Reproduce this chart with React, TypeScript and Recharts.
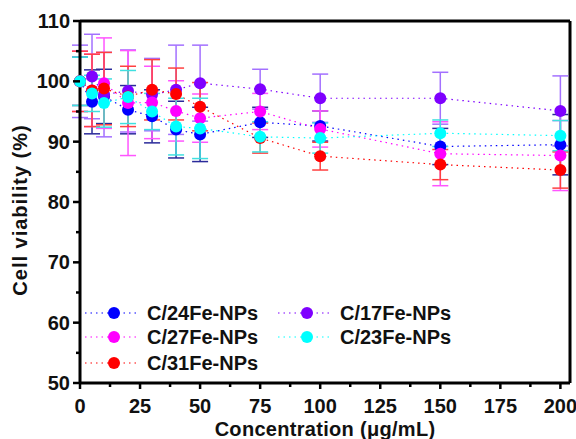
import React from "react";
import {
  ErrorBar,
  Label,
  Legend,
  Line,
  LineChart,
  ReferenceLine,
  XAxis,
  YAxis,
} from "recharts";

const concentrations = [0, 5, 10, 20, 30, 40, 50, 75, 100, 150, 200];

const c24 = [100, 96.6, 97.5, 95.3, 94.2, 92.0, 91.2, 93.2, 92.6, 89.2, 89.5];
const c24Err = [4, 5.3, 4.5, 4, 4.4, 4.7, 4.5, 2.5, 2.5, 3, 5];
const c17 = [100, 100.8, 97.8, 98.4, 97.8, 98.6, 99.7, 98.7, 97.2, 97.2, 95.1];
const c17Err = [6, 7, 7, 6.8, 6, 7.4, 6.3, 3.3, 4, 4.3, 5.8];
const c27 = [100, 98.5, 99.7, 96.4, 96.5, 95.1, 93.9, 95.0, 92.1, 88.0, 87.7];
const c27Err = [5, 6, 7.5, 8.7, 6, 5, 4, 3, 3, 5.3, 5.8];
const c31 = [100, 98.5, 98.8, 97.5, 98.6, 97.9, 95.8, 90.6, 87.6, 86.2, 85.3];
const c31Err = [5, 6, 6, 5, 5, 4.3, 4, 2.5, 2.3, 2.5, 3];
const c23 = [100, 98.0, 96.4, 97.4, 95.0, 92.5, 92.2, 90.8, 90.6, 91.4, 91.0];
const c23Err = [4, 3, 4, 4.4, 3, 4.7, 5, 2.5, 2.5, 2.2, 2.5];

const xTicks = [0, 12.5, 25, 37.5, 50, 62.5, 75, 87.5, 100, 112.5, 125, 137.5, 150, 162.5, 175, 187.5, 200];
const yTicks = [50, 55, 60, 65, 70, 75, 80, 85, 90, 95, 100, 105, 110];

const series = [
  { key: "c24", name: "C/24Fe-NPs", color: "#0000ff", errColor: "#2a2a9a" },
  { key: "c17", name: "C/17Fe-NPs", color: "#7f00ff", errColor: "#a370ff" },
  { key: "c27", name: "C/27Fe-NPs", color: "#ff00ff", errColor: "#ff55ff" },
  { key: "c31", name: "C/31Fe-NPs", color: "#ff0000", errColor: "#ff4040" },
  { key: "c23", name: "C/23Fe-NPs", color: "#00ffff", errColor: "#40e0e0" },
];

const data = concentrations.map((conc, i) => ({
  conc,
  c24: c24[i],
  c24Err: c24Err[i],
  c17: c17[i],
  c17Err: c17Err[i],
  c27: c27[i],
  c27Err: c27Err[i],
  c31: c31[i],
  c31Err: c31Err[i],
  c23: c23[i],
  c23Err: c23Err[i],
}));

const font = "'Liberation Sans', Arial, sans-serif";

function XTick(props: any) {
  const { x, y, payload } = props;
  const major = payload.value % 25 === 0;
  return (
    <g>
      <line x1={x} x2={x} y1={y} y2={y + (major ? 6 : 4)} stroke="#000" strokeWidth={2.5} />
      {major && (
        <text x={x} y={y + 30} textAnchor="middle" fontFamily={font} fontWeight="bold" fontSize={20} fill="#111">
          {payload.value}
        </text>
      )}
    </g>
  );
}

function YTick(props: any) {
  const { x, y, payload } = props;
  const major = payload.value % 10 === 0;
  return (
    <g>
      <line x1={x} x2={x - (major ? 7 : 4)} y1={y} y2={y} stroke="#000" strokeWidth={2.5} />
      {major && (
        <text x={x - 10} y={y + 7} textAnchor="end" fontFamily={font} fontWeight="bold" fontSize={20} fill="#111">
          {payload.value}
        </text>
      )}
    </g>
  );
}

// legend: two columns inside the plot, lower left
const legendPos: Record<string, [number, number]> = {
  c24: [0, 13],
  c27: [0, 37],
  c31: [0, 63],
  c17: [193, 13],
  c23: [193, 37],
};

function renderLegend() {
  return (
    <svg width={420} height={80}>
      {series.map((s) => {
        const [ox, cy] = legendPos[s.key];
        return (
          <g key={s.key}>
            <line x1={ox + 7} x2={ox + 60} y1={cy} y2={cy} stroke={s.color} strokeWidth={1.2} strokeDasharray="1.5 4" />
            <circle cx={ox + 36} cy={cy} r={6} fill={s.color} />
            <text x={ox + 69} y={cy + 7} fontFamily={font} fontWeight="bold" fontSize={20} fill="#111">
              {s.name}
            </text>
          </g>
        );
      })}
    </svg>
  );
}

export default function App() {
  return (
    <div style={{ position: "absolute", left: 0, top: 0, background: "#fff" }}>
      <LineChart width={576} height={439} data={data} margin={{ top: 21, right: 6, bottom: 16, left: 20 }}>
        <XAxis
          dataKey="conc"
          type="number"
          domain={[0, 204]}
          ticks={xTicks}
          interval={0}
          tick={<XTick />}
          tickLine={false}
          tickSize={0}
          tickMargin={0}
          height={40}
          axisLine={{ stroke: "#000", strokeWidth: 3 }}
        >
          <Label
            content={() => (
              <text x={325} y={436} textAnchor="middle" fontFamily={font} fontWeight="bold" fontSize={20} letterSpacing={0.3} fill="#111">
                Concentration (μg/mL)
              </text>
            )}
          />
        </XAxis>
        <YAxis
          type="number"
          domain={[50, 110]}
          ticks={yTicks}
          interval={0}
          tick={<YTick />}
          tickLine={false}
          tickSize={0}
          tickMargin={0}
          width={60}
          axisLine={{ stroke: "#000", strokeWidth: 3 }}
        >
          <Label
            content={() => (
              <text
                x={27}
                y={210}
                transform="rotate(-90 27 210)"
                textAnchor="middle"
                fontFamily={font}
                fontWeight="bold"
                fontSize={20}
                letterSpacing={1}
                fill="#111"
              >
                Cell viability (%)
              </text>
            )}
          />
        </YAxis>
        <ReferenceLine y={110} stroke="#000" strokeWidth={3} />
        <ReferenceLine x={204} stroke="#000" strokeWidth={3} />
        <Legend
          content={renderLegend}
          layout="horizontal"
          verticalAlign="middle"
          wrapperStyle={{ position: "absolute", left: 78, top: 300, width: 420, height: 80 }}
        />
        {series.map((s) => (
          <Line
            key={s.key}
            name={s.name}
            dataKey={s.key}
            stroke={s.color}
            strokeWidth={1.2}
            strokeDasharray="1.5 4"
            dot={{ r: 6, fill: s.color, stroke: s.color, strokeWidth: 0 }}
            activeDot={false}
            isAnimationActive={false}
          >
            <ErrorBar dataKey={`${s.key}Err`} width={8} stroke={s.errColor} strokeWidth={1.5} direction="y" />
          </Line>
        ))}
      </LineChart>
    </div>
  );
}
